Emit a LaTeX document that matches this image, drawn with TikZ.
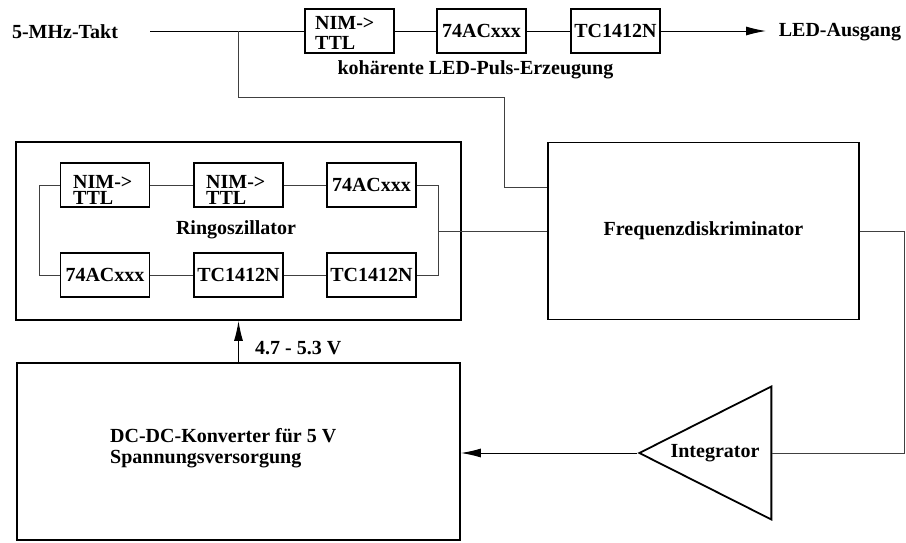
\documentclass[tikz,border=0pt]{standalone}
\usepackage{fontspec}
\setmainfont{Liberation Serif}
\usetikzlibrary{arrows.meta,shapes.geometric}
\begin{document}
\begin{tikzpicture}[x=1pt,y=-1pt,
  txt/.style={font=\fontsize{20}{20}\selectfont\bfseries, inner sep=0},
  box/.style={draw, line width=1.8pt, inner sep=0, minimum width=89pt, minimum height=44pt, font=\fontsize{20}{20}\selectfont\bfseries},
  bigbox/.style={draw, line width=1.8pt, inner sep=0, font=\fontsize{20}{20}\selectfont\bfseries},
  wire/.style={line width=1pt, draw=black!75},
  arr/.style={line width=1pt, draw=black, -{Latex[length=20pt,width=9pt]}}]
\useasboundingbox (0,0) rectangle (906,542);

% top row
\node[txt] (takt) at (65,32) {5-MHz-Takt};
\node[box] (t1) at (349.5,31) {};
\node[txt, align=left, anchor=north west, font=\fontsize{20}{20}\selectfont\bfseries] at (315,15.7) {NIM->\\TTL};
\node[box] (t2) at (481.5,31) {74ACxxx};
\node[box] (t3) at (615.5,31) {TC1412N};
\node[txt] (led) at (840,32) {LED-Ausgang};
\node[txt] at (475.5,70) {kohärente LED-Puls-Erzeugung};
\coordinate (in) at (150,31);
\coordinate (br) at (238,31);
\coordinate (ledtip) at (766,31);
\draw[wire, draw=black] (in) -- (t1);
\draw[wire, draw=black] (t1) -- (t2);
\draw[wire, draw=black] (t2) -- (t3);
\draw[arr] (t3) -- (ledtip);

% ring oscillator
\node[bigbox, minimum width=445pt, minimum height=178pt] (ring) at (238.5,231) {};
\node[txt] at (236,230) {Ringoszillator};
\node[box] (r1) at (105,185) {};
\node[txt, align=left, anchor=north west, font=\fontsize{20}{16}\selectfont\bfseries] at (73,174.7) {NIM->\\TTL};
\node[box] (r2) at (238.5,185) {};
\node[txt, align=left, anchor=north west, font=\fontsize{20}{16}\selectfont\bfseries] at (206,174.7) {NIM->\\TTL};
\node[box] (r3) at (371.5,185) {74ACxxx};
\node[box] (r4) at (105,275) {74ACxxx};
\node[box] (r5) at (238.5,275) {TC1412N};
\node[box] (r6) at (371.5,275) {TC1412N};
\coordinate (rr1) at (438,185);
\coordinate (rr2) at (438,275);
\coordinate (rrm) at (438,231);
\coordinate (rl1) at (39,185);
\coordinate (rl2) at (39,275);
\draw[wire] (r1) -- (r2);
\draw[wire] (r2) -- (r3);
\draw[wire] (r3) -- (rr1) -- (rr2) -- (r6);
\draw[wire] (r6) -- (r5);
\draw[wire] (r5) -- (r4);
\draw[wire] (r4) -- (rl2) -- (rl1) -- (r1);

% frequency discriminator
\node[bigbox, minimum width=311pt, minimum height=177pt] (freq) at (703.5,231) {Frequenzdiskriminator};
\draw[wire] (rrm) -- (rrm -| freq.west);
\coordinate (b1) at (238,97);
\coordinate (b2) at (504,97);
\coordinate (b3) at (504,187);
\draw[wire] (br) -- (b1) -- (b2) -- (b3) -- (b3 -| freq.west);

% DC-DC converter
\node[bigbox, minimum width=443pt, minimum height=177pt] (dc) at (238.5,451.5) {};
\node[txt, anchor=base west] at (110,442) {DC-DC-Konverter für 5 V};
\node[txt, anchor=base west] at (110,463) {Spannungsversorgung};
\draw[arr] (dc.north) -- (ring.south);
\node[txt, anchor=west] at (255,348) {4.7 - 5.3 V};

% integrator
\node[draw, line width=1.8pt, isosceles triangle, shape border rotate=180,
  isosceles triangle stretches, minimum width=133pt, minimum height=132pt,
  inner sep=0, anchor=apex] (int) at (637,453) {};
\node[txt] at (715,453) {Integrator};
\coordinate (fr) at (904,231);
\coordinate (fr2) at (904,453);
\draw[wire] (freq.east) -- (fr) -- (fr2) -- (int.lower side);
\draw[arr] (int.apex) -- (int.apex -| dc.east);
\end{tikzpicture}
\end{document}
